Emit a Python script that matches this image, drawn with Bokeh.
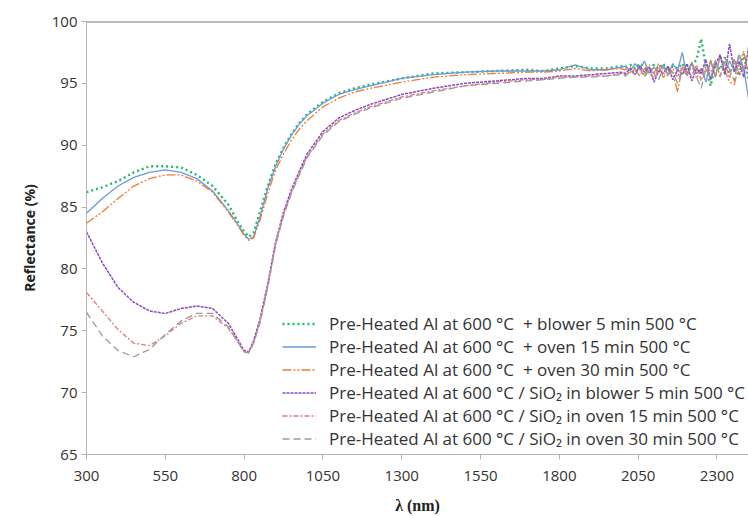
from bokeh.plotting import figure
from bokeh.models import Legend, LegendItem, FixedTicker, Span, Range1d
from bokeh.embed import file_html
from bokeh.resources import INLINE

# wavelength (nm)
wavelength = [300, 350, 400, 450, 500, 550, 600, 650, 700, 750, 780, 800, 815, 830, 850,
              875, 900, 925, 950, 975, 1000, 1050, 1100, 1150, 1200, 1300, 1400, 1500,
              1600, 1700, 1750, 1800, 1850, 1900, 1950,
              1995, 2010, 2025, 2040, 2055, 2070, 2085, 2100, 2115, 2130, 2145, 2160,
              2175, 2190, 2205, 2220, 2235, 2250, 2265, 2280, 2295, 2310, 2325, 2340,
              2355, 2370, 2385, 2400]

al_blower5 = [86.2, 86.6, 87.1, 87.8, 88.3, 88.3, 88.2, 87.6, 86.7, 85.2, 83.8, 83.0, 82.6, 82.9, 84.6,
              86.7, 88.5, 89.8, 90.9, 91.8, 92.5, 93.5, 94.2, 94.6, 94.9, 95.4, 95.8, 95.9,
              96.0, 96.1, 96.0, 96.2, 96.4, 96.2, 96.2,
              96.4, 96.3, 96.5, 96.2, 96.6, 96.3, 96.1, 96.5, 96.2, 96.6, 95.9, 96.4,
              96.2, 96.6, 96.0, 96.5, 96.9, 98.6, 96.3, 94.8, 96.6, 96.1, 97.1, 95.8,
              96.9, 95.6, 97.4, 95.3]

al_oven15 = [84.5, 85.7, 86.7, 87.4, 87.8, 88.0, 87.8, 87.3, 86.3, 84.7, 83.6, 82.8, 82.4, 82.6, 84.2,
             86.5, 88.3, 89.7, 90.8, 91.7, 92.4, 93.4, 94.1, 94.5, 94.8, 95.4, 95.7, 95.9,
             96.0, 96.0, 96.0, 96.1, 96.5, 96.1, 96.1,
             96.3, 96.4, 96.0, 96.6, 96.1, 96.8, 95.8, 96.3, 95.9, 96.5, 95.7, 96.6,
             96.0, 97.5, 95.6, 96.7, 95.8, 96.2, 95.1, 96.9, 95.5, 97.2, 95.9, 96.8,
             96.0, 97.3, 96.2, 93.8]

al_oven30 = [83.7, 84.6, 85.7, 86.7, 87.3, 87.6, 87.6, 87.1, 86.2, 84.6, 83.5, 82.7, 82.3, 82.5, 83.9,
             86.1, 88.0, 89.3, 90.4, 91.3, 92.0, 93.1, 93.8, 94.3, 94.6, 95.1, 95.5, 95.7,
             95.8, 95.9, 95.9, 96.0, 96.2, 96.0, 96.1,
             96.2, 96.1, 96.3, 95.9, 96.4, 95.6, 96.5, 95.8, 96.6, 95.4, 96.2, 95.9,
             94.3, 96.3, 95.8, 96.7, 95.4, 96.1, 95.9, 96.8, 95.5, 97.3, 96.0, 95.1,
             94.9, 96.5, 97.6, 95.7]

sio2_blower5 = [83.0, 80.5, 78.5, 77.3, 76.6, 76.4, 76.8, 77.0, 76.8, 75.6, 74.3, 73.4, 73.3, 74.2, 75.9,
                78.8, 82.2, 84.6, 86.4, 87.9, 89.3, 91.1, 92.2, 92.8, 93.3, 94.1, 94.6, 95.0,
                95.2, 95.4, 95.4, 95.6, 95.6, 95.7, 95.8,
                95.9, 95.8, 96.2, 95.7, 96.4, 95.9, 96.3, 95.1, 96.0, 95.8, 96.4, 95.3,
                96.1, 95.7, 96.6, 95.2, 96.2, 95.8, 96.9, 95.3, 96.5, 97.3, 95.7, 98.2,
                95.9, 96.8, 95.5, 97.9]

sio2_oven15 = [78.1, 76.6, 75.1, 74.0, 73.8, 74.6, 75.6, 76.2, 76.2, 75.2, 74.1, 73.3, 73.3, 74.0, 75.7,
               78.6, 82.0, 84.4, 86.2, 87.7, 89.1, 90.9, 92.0, 92.6, 93.1, 93.9, 94.4, 94.8,
               95.1, 95.3, 95.3, 95.5, 95.5, 95.6, 95.6,
               95.8, 95.7, 95.9, 96.1, 95.6, 96.2, 95.9, 95.4, 96.3, 95.8, 95.6, 96.2,
               95.5, 96.4, 95.9, 95.6, 96.5, 95.2, 96.4, 95.9, 96.8, 95.6, 96.7, 95.4,
               97.0, 95.8, 96.3, 96.9]

sio2_oven30 = [76.5, 74.6, 73.4, 72.9, 73.5, 74.7, 75.8, 76.4, 76.4, 75.3, 74.1, 73.3, 73.2, 74.0, 75.6,
               78.5, 81.9, 84.3, 86.1, 87.6, 89.0, 90.8, 91.9, 92.5, 93.0, 93.8, 94.3, 94.8,
               95.0, 95.2, 95.3, 95.4, 95.5, 95.5, 95.6,
               95.7, 95.6, 96.0, 95.7, 96.2, 95.5, 96.1, 95.8, 95.3, 96.3, 95.7, 95.9,
               95.0, 96.2, 95.6, 96.4, 95.5, 94.6, 96.2, 95.4, 96.9, 95.5, 97.1, 96.1,
               95.2, 97.4, 96.0, 96.4]

series_labels = [
    "Pre-Heated Al at 600 °C  + blower 5 min 500 °C",
    "Pre-Heated Al at 600 °C  + oven 15 min 500 °C",
    "Pre-Heated Al at 600 °C  + oven 30 min 500 °C",
    "Pre-Heated Al at 600 °C / SiO₂ in blower 5 min 500 °C",
    "Pre-Heated Al at 600 °C / SiO₂ in oven 15 min 500 °C",
    "Pre-Heated Al at 600 °C / SiO₂ in oven 30 min 500 °C",
]
x_ticks = [300, 550, 800, 1050, 1300, 1550, 1800, 2050, 2300]
y_ticks = [65, 70, 75, 80, 85, 90, 95, 100]

styles = [
    dict(color="#22b86a", width=2.4, dash="2 3"),
    dict(color="#6a9ad8", width=1.3, dash="solid"),
    dict(color="#ee7d31", width=1.3, dash="9 2 2 2 2 2"),
    dict(color="#8a48c8", width=1.5, dash="3 1"),
    dict(color="#e07a7a", width=1.3, dash="5 2 2 2"),
    dict(color="#9a9a9a", width=1.3, dash="7 4"),
]

p = figure(width=748, height=516, output_backend="svg", toolbar_location=None,
           x_range=Range1d(300, 2400), y_range=Range1d(65, 100),
           min_border_left=86, min_border_right=0, min_border_top=21, min_border_bottom=62)
p.outline_line_color = None
p.xgrid.visible = False
p.ygrid.visible = False
p.background_fill_color = "white"
p.border_fill_color = "white"

data = [al_blower5, al_oven15, al_oven30, sio2_blower5, sio2_oven15, sio2_oven30]
renderers = []
for vals, st in zip(data, styles):
    r = p.line(wavelength, vals, line_color=st["color"], line_width=st["width"],
               line_dash=st["dash"])
    renderers.append(r)

p.add_layout(Span(location=100, dimension="width", line_color="#767676", line_width=2))

FONT = "Open Sans"
for ax in (p.xaxis[0], p.yaxis[0]):
    ax.axis_line_color = "#b4b4b4"
    ax.major_tick_line_color = "#b4b4b4"
    ax.major_tick_in = 0
    ax.major_tick_out = 5
    ax.minor_tick_line_color = None
    ax.major_label_text_font = FONT
    ax.major_label_text_font_size = "15px"
    ax.major_label_text_color = "#333333"

p.xaxis[0].ticker = FixedTicker(ticks=x_ticks)
p.yaxis[0].ticker = FixedTicker(ticks=y_ticks)
p.xaxis[0].major_label_standoff = 11
p.yaxis[0].major_label_standoff = 4

p.yaxis[0].axis_label = "Reflectance (%)"
p.yaxis[0].axis_label_text_font = FONT
p.yaxis[0].axis_label_text_font_style = "bold"
p.yaxis[0].axis_label_text_font_size = "14px"
p.yaxis[0].axis_label_text_color = "#222222"
p.yaxis[0].axis_label_standoff = 10

p.xaxis[0].axis_label = "λ (nm)"
p.xaxis[0].axis_label_text_font = "Liberation Serif"
p.xaxis[0].axis_label_text_font_style = "bold"
p.xaxis[0].axis_label_text_font_size = "16px"
p.xaxis[0].axis_label_text_color = "#222222"
p.xaxis[0].axis_label_standoff = 13

legend = Legend(
    items=[LegendItem(label=lab, renderers=[r]) for lab, r in zip(series_labels, renderers)],
    location=(196, 4),
    padding=0, margin=0, spacing=0,
    glyph_width=34, glyph_height=23, label_height=23, label_standoff=13,
    label_text_font=FONT, label_text_font_size="17px", label_text_color="#333333",
    border_line_color=None, background_fill_alpha=0,
)
p.add_layout(legend)

open("out.html", "w").write(file_html(p, INLINE))
